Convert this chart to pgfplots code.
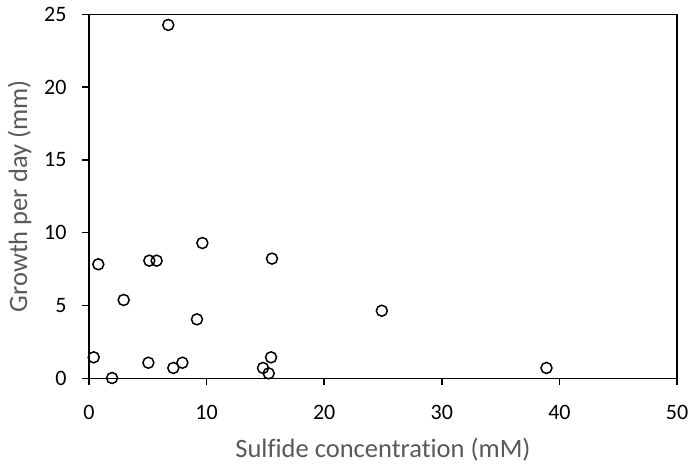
\documentclass[border=0pt]{standalone}
\usepackage{fontspec}
\setmainfont{Carlito}[Ligatures={NoCommon}]
\usepackage{pgfplots}
\pgfplotsset{compat=1.18}
\definecolor{labgray}{HTML}{595959}
\begin{document}
\begin{tikzpicture}
\begin{axis}[
  scale only axis,
  width=588bp, height=364bp,
  xmin=0, xmax=50, ymin=0, ymax=25,
  xtick={0,10,...,50}, ytick={0,5,...,25},
  axis line style={line width=1.5bp},
  tick style={line width=1.5bp, black},
  tick align=outside,
  major tick length=7bp,
  xtick pos=bottom, ytick pos=left,
  /pgf/number format/assume math mode=true,
  ticklabel style={font=\fontsize{22bp}{26bp}\selectfont, black},
  xticklabel style={yshift=-16bp},
  yticklabel style={xshift=-12bp},
  xlabel={Sulfide concentration (mM)},
  ylabel={Growth per day (mm)},
  label style={font=\fontsize{26.5bp}{32bp}\selectfont, text=labgray},
  xlabel style={yshift=-12bp},
  ylabel style={yshift=6bp},
  clip=false,
]
\addplot[only marks, mark=o, mark size=5.5bp, mark options={line width=1.5bp, black, fill=white}] coordinates {
(6.74,24.27)
(0.79,7.83)
(5.13,8.08)
(5.75,8.08)
(9.64,9.29)
(15.56,8.22)
(2.95,5.38)
(9.18,4.05)
(24.9,4.64)
(0.40,1.44)
(5.05,1.07)
(1.96,0.02)
(7.17,0.71)
(7.94,1.07)
(14.8,0.71)
(15.28,0.34)
(15.48,1.44)
(38.9,0.71)
};
\coordinate (bl) at (rel axis cs:0,0);
\coordinate (tr) at (rel axis cs:1,1);
\end{axis}
\pgfresetboundingbox
\path[use as bounding box] ([shift={(-89bp,-85.7bp)}]bl) rectangle ([shift={(12bp,14.3bp)}]tr);
\end{tikzpicture}
\end{document}
